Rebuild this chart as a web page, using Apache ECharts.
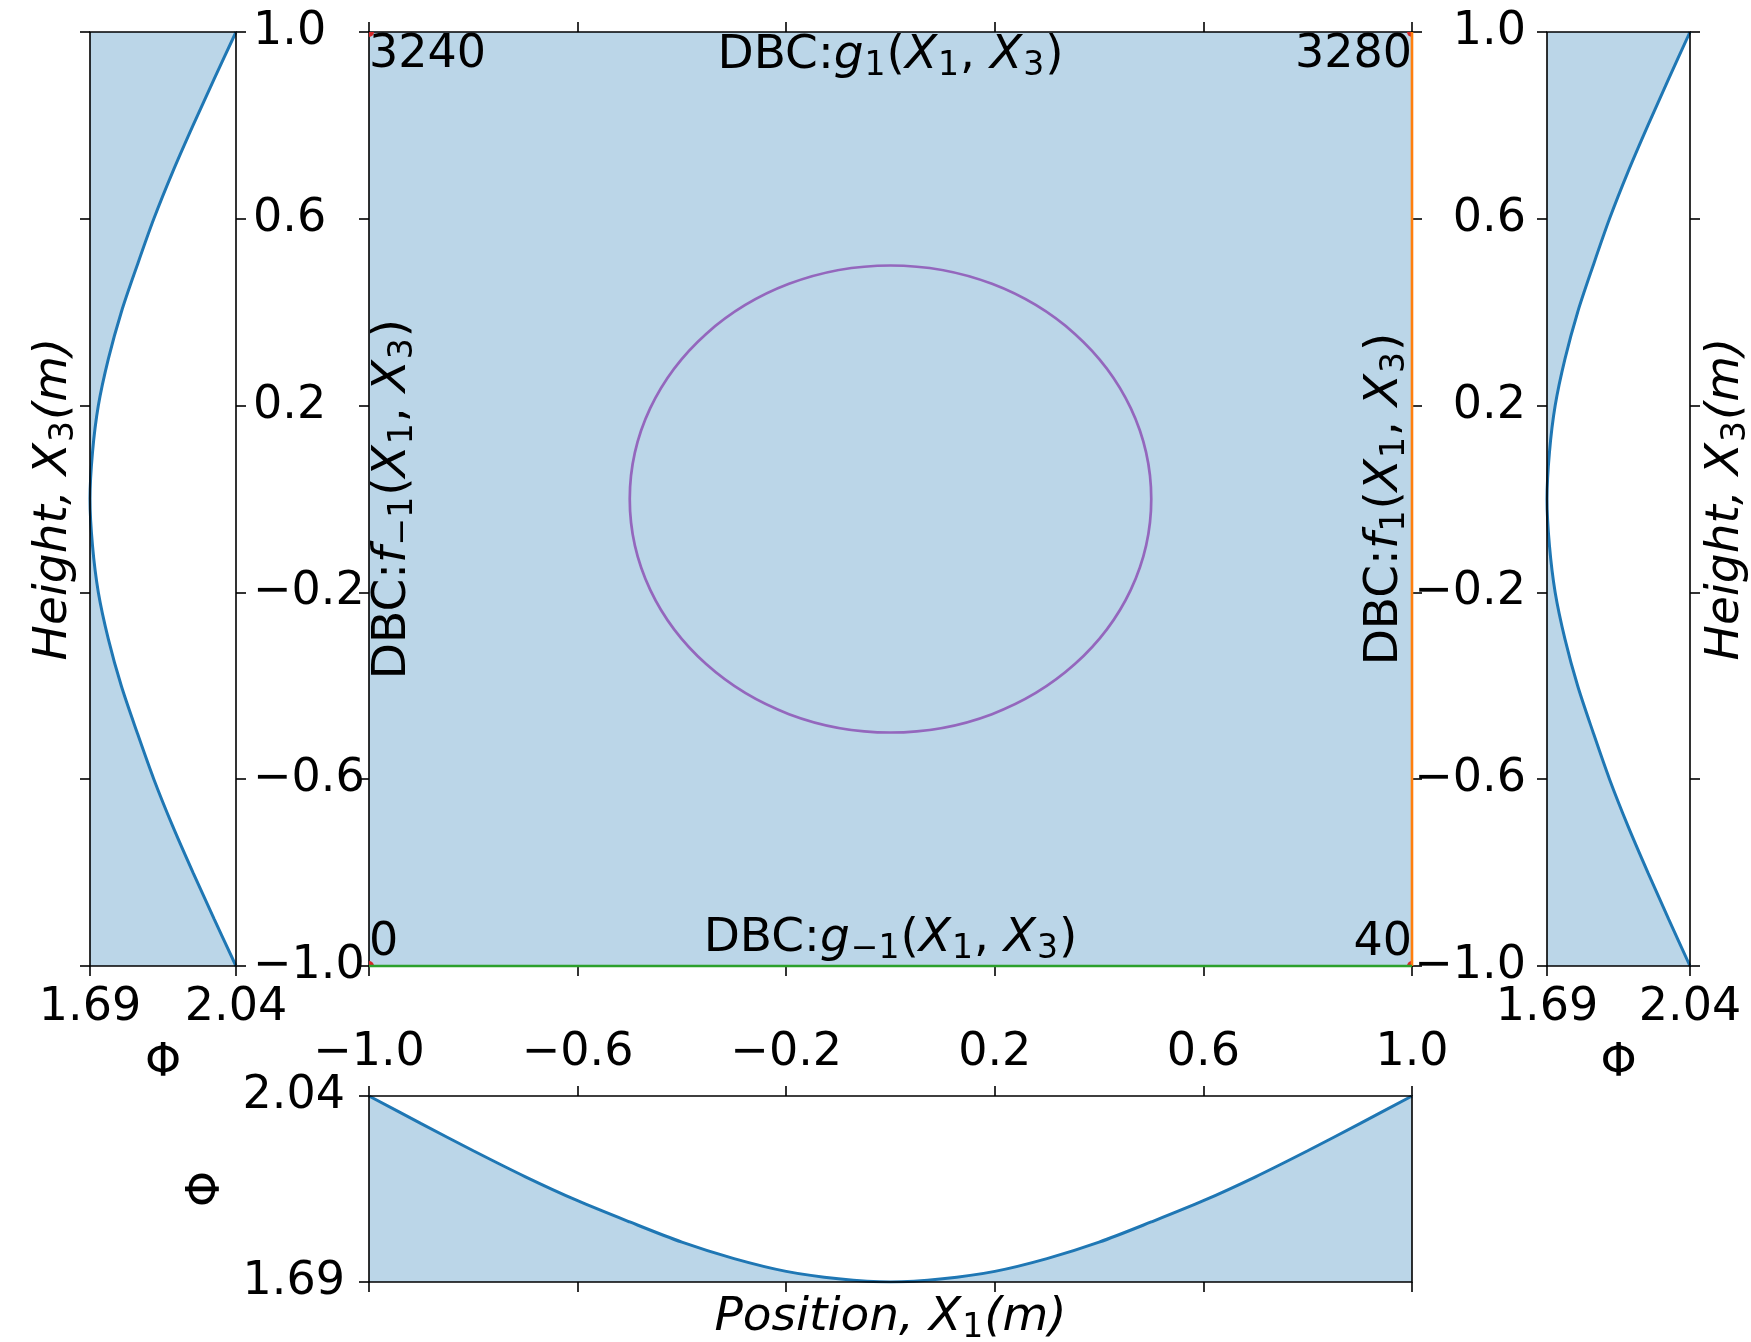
<!DOCTYPE html>
<html>
<head>
<meta charset="utf-8">
<script src="https://cdn.jsdelivr.net/npm/echarts@6/dist/echarts.min.js"></script>
<style>
  html, body { margin: 0; padding: 0; background: #ffffff; }
  #chart { width: 1751px; height: 1342px; }
</style>
</head>
<body>
<div id="chart"></div>
<script>
// Sample positions along X1 (and heights along X3) where the potential is tabulated
const samplePositions = [-1.0, -0.9, -0.8, -0.7, -0.6, -0.5, -0.4, -0.3, -0.2, -0.1, 0.0,
                         0.1, 0.2, 0.3, 0.4, 0.5, 0.6, 0.7, 0.8, 0.9, 1.0];
const heightLevels = ['−1.0', '−0.9', '−0.8', '−0.7', '−0.6', '−0.5', '−0.4', '−0.3', '−0.2', '−0.1', '0.0',
                      '0.1', '0.2', '0.3', '0.4', '0.5', '0.6', '0.7', '0.8', '0.9', '1.0'];

// Potential Φ along the bottom profile (vs X1) and the side profiles (vs X3)
const phiAlongX1 = [2.040, 1.988, 1.937, 1.888, 1.843, 1.803, 1.765, 1.734, 1.710, 1.696, 1.690,
                    1.696, 1.710, 1.734, 1.765, 1.803, 1.843, 1.888, 1.937, 1.988, 2.040];
const phiAlongX3 = [2.040, 1.988, 1.937, 1.888, 1.843, 1.803, 1.765, 1.734, 1.710, 1.696, 1.690,
                    1.696, 1.710, 1.734, 1.765, 1.803, 1.843, 1.888, 1.937, 1.988, 2.040];

// Tick positions and their labels
const domainTicks = [-1.0, -0.6, -0.2, 0.2, 0.6, 1.0];
const domainTickLabels = ['−1.0', '−0.6', '−0.2', '0.2', '0.6', '1.0'];
const phiTicks = [1.69, 2.04];
const phiTickLabels = ['1.69', '2.04'];

// Domain rectangle [x0, y0, x1, y1], interior circle [cx, cy, r]
const domainBox = [[-1, -1, 1, 1]];
const interiorCircle = [[0, 0, 0.5]];

// Corner nodes of the mesh with their indices
const cornerNodeX = [-1, 1, -1, 1];
const cornerNodeY = [1, 1, -1, -1];
const cornerNodeIds = ['3240', '3280', '0', '40'];

// Boundary edges carrying Dirichlet conditions
const edgeRight = [[1, -1], [1, 1]];
const edgeBottom = [[-1, -1], [1, -1]];

const FONT = 'DejaVu Sans';
const FILL = 'rgba(31,119,180,0.3)';
const BLUE = '#1f77b4';

// Math-style text: regular, italic and subscript runs
const richMath = {
  n: { fontFamily: FONT, fontSize: 47, color: '#000', lineHeight: 51, verticalAlign: 'top' },
  i: { fontFamily: FONT, fontSize: 47, color: '#000', lineHeight: 51, verticalAlign: 'top', fontStyle: 'italic' },
  s: { fontFamily: FONT, fontSize: 33, color: '#000', lineHeight: 33, verticalAlign: 'bottom', padding: [0, 1, 0, 1] }
};

function labelFor(ticks, labels) {
  return function (v) {
    for (let k = 0; k < ticks.length; k++) {
      if (Math.abs(ticks[k] - v) < 1e-6) return labels[k];
    }
    return '';
  };
}

const tickLine = { color: '#000', width: 1.6 };
const baseFont = { fontFamily: FONT, fontSize: 46, color: '#000' };

function valueAxis(gridIndex, position, min, max, ticks, labels, labelOpts, extra) {
  return Object.assign({
    type: 'value', gridIndex: gridIndex, position: position, min: min, max: max,
    axisLine: { show: false, onZero: false },
    splitLine: { show: false },
    axisTick: { show: true, inside: false, length: 10, lineStyle: tickLine, customValues: ticks },
    axisLabel: labelOpts
      ? Object.assign({ show: true, customValues: ticks, formatter: labelFor(ticks, labels) }, baseFont, labelOpts)
      : { show: false }
  }, extra || {});
}

function heightAxis(gridIndex, position, labelOpts, extra) {
  return Object.assign({
    type: 'category', gridIndex: gridIndex, position: position, data: heightLevels,
    boundaryGap: false,
    axisLine: { show: false, onZero: false },
    splitLine: { show: false },
    axisTick: { show: true, inside: false, length: 10, lineStyle: tickLine, interval: 3 },
    axisLabel: labelOpts
      ? Object.assign({ show: true, interval: 3, showMinLabel: true, showMaxLabel: true }, baseFont, labelOpts)
      : { show: false }
  }, extra || {});
}

const gridBase = {
  show: true, borderColor: '#000', borderWidth: 1.6, backgroundColor: 'transparent', z: 4,
  containLabel: false, outerBoundsMode: 'none'
};

const option = {
  animation: false,
  backgroundColor: '#ffffff',
  textStyle: { fontFamily: FONT },
  grid: [
    Object.assign({ left: 90, top: 32, width: 146, height: 934 }, gridBase),    // left Φ(X3) panel
    Object.assign({ left: 369, top: 32, width: 1043, height: 934 }, gridBase),  // domain
    Object.assign({ left: 1547, top: 32, width: 143, height: 934 }, gridBase),  // right Φ(X3) panel
    Object.assign({ left: 369, top: 1096, width: 1043, height: 186 }, gridBase) // bottom Φ(X1) panel
  ],
  xAxis: [
    valueAxis(0, 'bottom', 1.69, 2.04, phiTicks, phiTickLabels, { margin: 19 }, {
      name: 'Φ', nameLocation: 'middle', nameGap: 75, nameTextStyle: baseFont
    }),
    valueAxis(1, 'bottom', -1, 1, domainTicks, domainTickLabels, null),
    valueAxis(1, 'top', -1, 1, domainTicks, domainTickLabels, null),
    valueAxis(2, 'bottom', 1.69, 2.04, phiTicks, phiTickLabels, { margin: 19 }, {
      name: 'Φ', nameLocation: 'middle', nameGap: 75, nameTextStyle: baseFont
    }),
    valueAxis(3, 'top', -1, 1, domainTicks, domainTickLabels, { margin: 20 }),
    valueAxis(3, 'bottom', -1, 1, domainTicks, domainTickLabels, null, {
      name: '{i|Position, X}{s|1}{i|(m)}', nameLocation: 'middle', nameGap: 12,
      nameTextStyle: Object.assign({ rich: richMath }, baseFont)
    })
  ],
  yAxis: [
    heightAxis(0, 'left', null, {
      name: '{i|Height, X}{s|3}{i|(m)}', nameLocation: 'middle', nameRotate: 90, nameGap: 9,
      nameTextStyle: Object.assign({ rich: richMath }, baseFont)
    }),
    heightAxis(0, 'right', { margin: 17 }),
    valueAxis(1, 'left', -1, 1, domainTicks, domainTickLabels, null),
    valueAxis(1, 'right', -1, 1, domainTicks, domainTickLabels, null),
    heightAxis(2, 'left', { margin: 21 }),
    heightAxis(2, 'right', null, {
      name: '{i|Height, X}{s|3}{i|(m)}', nameLocation: 'middle', nameRotate: 90, nameGap: 12,
      nameTextStyle: Object.assign({ rich: richMath }, baseFont)
    }),
    valueAxis(3, 'left', 1.69, 2.04, phiTicks, phiTickLabels, { margin: 24 }, {
      name: 'Φ', nameLocation: 'middle', nameRotate: 90, nameGap: 139, nameTextStyle: baseFont
    })
  ],
  series: [
    // Side profiles Φ(X3)
    {
      type: 'line', xAxisIndex: 0, yAxisIndex: 0, data: phiAlongX3,
      smooth: 0.3, symbol: 'none', silent: true,
      lineStyle: { color: BLUE, width: 3 },
      areaStyle: { color: FILL, origin: 'start', opacity: 1 }
    },
    {
      type: 'line', xAxisIndex: 3, yAxisIndex: 4, data: phiAlongX3,
      smooth: 0.3, symbol: 'none', silent: true,
      lineStyle: { color: BLUE, width: 3 },
      areaStyle: { color: FILL, origin: 'start', opacity: 1 }
    },
    // Bottom profile Φ(X1)
    {
      type: 'line', xAxisIndex: 4, yAxisIndex: 6,
      data: samplePositions.map(function (x, k) { return [x, phiAlongX1[k]]; }),
      smooth: 0.3, symbol: 'none', silent: true,
      lineStyle: { color: BLUE, width: 3 },
      areaStyle: { color: FILL, origin: 'start', opacity: 1 }
    },
    // Domain fill
    {
      type: 'custom', xAxisIndex: 1, yAxisIndex: 2, data: domainBox, z: 1, silent: true,
      renderItem: function (params, api) {
        const tl = api.coord([api.value(0), api.value(3)]);
        const br = api.coord([api.value(2), api.value(1)]);
        return { type: 'rect', shape: { x: tl[0], y: tl[1], width: br[0] - tl[0], height: br[1] - tl[1] },
                 style: { fill: FILL } };
      }
    },
    // Interior circular boundary
    {
      type: 'custom', xAxisIndex: 1, yAxisIndex: 2, data: interiorCircle, z: 3, silent: true,
      renderItem: function (params, api) {
        const c = api.coord([api.value(0), api.value(1)]);
        const s = api.size([api.value(2), api.value(2)]);
        return { type: 'ellipse', shape: { cx: c[0], cy: c[1], rx: s[0], ry: s[1] },
                 style: { fill: 'none', stroke: '#9467bd', lineWidth: 2.7 } };
      }
    },
    // Dirichlet edges
    {
      type: 'line', xAxisIndex: 1, yAxisIndex: 2, data: edgeRight, z: 6, clip: false,
      symbol: 'none', silent: true, lineStyle: { color: '#ff7f0e', width: 2.6 }
    },
    {
      type: 'line', xAxisIndex: 1, yAxisIndex: 2, data: edgeBottom, z: 6, clip: false,
      symbol: 'none', silent: true, lineStyle: { color: '#2ca02c', width: 2.4 }
    },
    // Corner nodes
    {
      type: 'custom', xAxisIndex: 1, yAxisIndex: 2, clip: true, z: 5, silent: true,
      data: cornerNodeX.map(function (x, k) { return [x, cornerNodeY[k]]; }),
      renderItem: function (params, api) {
        const c = api.coord([api.value(0), api.value(1)]);
        return { type: 'circle', shape: { cx: c[0], cy: c[1], r: 5 }, style: { fill: '#d62728' } };
      }
    },
    // Corner node indices
    {
      type: 'scatter', xAxisIndex: 1, yAxisIndex: 2, symbolSize: 0, z: 7, silent: true,
      itemStyle: { opacity: 1 },
      data: cornerNodeX.map(function (x, k) {
        const y = cornerNodeY[k];
        return {
          value: [x, y], name: cornerNodeIds[k],
          label: { align: x < 0 ? 'left' : 'right', verticalAlign: y > 0 ? 'top' : 'bottom' }
        };
      }),
      label: Object.assign({ show: true, position: 'inside', formatter: '{b}', opacity: 1 }, baseFont)
    },
    // Boundary condition annotations
    {
      type: 'scatter', xAxisIndex: 1, yAxisIndex: 2, symbolSize: 0, z: 7, silent: true,
      itemStyle: { opacity: 1 },
      data: [
        { value: [0, 1], name: '{n|DBC:}{i|g}{s|1}{n|(}{i|X}{s|1}{n|, }{i|X}{s|3}{n|)}',
          label: { align: 'center', verticalAlign: 'top' } },
        { value: [0, -1], name: '{n|DBC:}{i|g}{s|−1}{n|(}{i|X}{s|1}{n|, }{i|X}{s|3}{n|)}',
          label: { align: 'center', verticalAlign: 'bottom' } },
        { value: [-1, 0], name: '{n|DBC:}{i|f}{s|−1}{n|(}{i|X}{s|1}{n|, }{i|X}{s|3}{n|)}',
          label: { align: 'center', verticalAlign: 'top', rotate: 90 } },
        { value: [1, 0], name: '{n|DBC:}{i|f}{s|1}{n|(}{i|X}{s|1}{n|, }{i|X}{s|3}{n|)}',
          label: { align: 'center', verticalAlign: 'bottom', rotate: 90 } }
      ],
      label: Object.assign({ show: true, position: 'inside', formatter: '{b}', rich: richMath, opacity: 1 }, baseFont)
    }
  ]
};

const chart = echarts.init(document.getElementById('chart'), null, { renderer: 'canvas' });
chart.setOption(option);
</script>
</body>
</html>
